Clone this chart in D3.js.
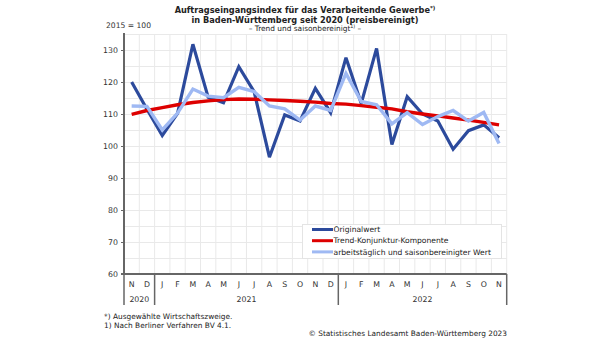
<!DOCTYPE html>
<html>
<head>
<meta charset="utf-8">
<script src="https://cdn.jsdelivr.net/npm/d3@7"></script>
<style>
  body { margin: 0; background: #fff; }
  svg { font-family: "DejaVu Sans", Verdana, sans-serif; }
</style>
</head>
<body>
<div id="chart"></div>
<script>
const W = 608, H = 342;

// months Nov 2020 .. Nov 2022
const months = ["N","D","J","F","M","A","M","J","J","A","S","O","N","D","J","F","M","A","M","J","J","A","S","O","N"];
const years = ["2020", "2021", "2022"];
const yearMonthCounts = [2, 12, 11];
const yTicks = [60, 70, 80, 90, 100, 110, 120, 130];

const original = [120, 111.5, 103.3, 110.2, 131.8, 115.2, 113.5, 124.8, 117, 96.5, 109.7, 107.8, 118, 110.4, 127.6, 113.3, 130.5, 100.5, 115.4, 110, 107.8, 99, 104.8, 106.6, 102.6];
const trend = [109.9, 111.1, 112, 112.9, 113.6, 114.1, 114.5, 114.7, 114.6, 114.4, 114.2, 114, 113.7, 113.3, 113.1, 112.6, 112.1, 111.6, 110.7, 110, 109.4, 108.75, 108.1, 107.4, 106.6];
const adjusted = [112.5, 112.4, 105, 110.3, 117.8, 115.6, 115.1, 118.3, 117, 112.5, 111.6, 108.1, 112.5, 111.1, 122.7, 113.9, 112.9, 106.9, 110.4, 106.7, 109.2, 111.1, 107.8, 110.5, 100.8];

const seriesNames = ["Originalwert", "Trend-Konjunktur-Komponente", "arbeitstäglich und saisonbereinigter Wert"];
const seriesColors = ["#2c4a9c", "#dd0000", "#9fb9f3"];

const plotLeft = 124, plotRight = 506.7, plotTop = 34, plotBottom = 274;

const svg = d3.select("#chart").append("svg").attr("width", W).attr("height", H);

const x = d3.scaleBand().domain(d3.range(months.length)).range([plotLeft, plotRight]).padding(0);
const cx = i => x(i) + x.bandwidth() / 2;
const y = d3.scaleLinear().domain([60, 135]).range([plotBottom, plotTop]);

// grid
const grid = svg.append("g").attr("stroke", "#e9e9e9").attr("stroke-width", 1);
grid.selectAll(".hg").data(d3.range(65, 136, 5)).enter().append("line")
    .attr("x1", plotLeft).attr("x2", plotRight)
    .attr("y1", d => Math.round(y(d)) + 0.5).attr("y2", d => Math.round(y(d)) + 0.5);
grid.selectAll(".vg").data(d3.range(1, months.length + 1)).enter().append("line")
    .attr("x1", i => x(i) ?? plotRight).attr("x2", i => x(i) ?? plotRight)
    .attr("y1", plotTop).attr("y2", plotBottom);

// y axis
const yAxis = svg.append("g").attr("transform", `translate(${plotLeft},0)`)
    .call(d3.axisLeft(y).tickValues(yTicks).tickSize(3).tickPadding(3));
yAxis.select(".domain").attr("stroke", "#666").attr("stroke-width", 2)
    .attr("d", `M0,${plotTop - 1}V${plotBottom}`);
yAxis.selectAll(".tick line").attr("stroke", "#666");
yAxis.selectAll(".tick text").attr("font-size", "7.8px").attr("fill", "#333")
    .attr("font-family", "DejaVu Sans, sans-serif");

// x axis line
svg.append("line").attr("x1", plotLeft - 3).attr("x2", plotRight)
    .attr("y1", plotBottom).attr("y2", plotBottom).attr("stroke", "#666").attr("stroke-width", 2);

// month labels
svg.append("g").selectAll("text").data(months).enter().append("text")
    .attr("x", (d, i) => cx(i)).attr("y", 287)
    .attr("text-anchor", "middle").attr("font-size", "7.8px").attr("fill", "#333")
    .text(d => d);

// year dividers & labels
let startIdx = 0;
const yearG = svg.append("g");
const edges = [plotLeft];
years.forEach((yr, k) => {
  const endIdx = startIdx + yearMonthCounts[k];
  const x0 = x(startIdx), x1 = endIdx < months.length ? x(endIdx) : plotRight;
  edges.push(x1);
  yearG.append("text").attr("x", (x0 + x1) / 2).attr("y", 302)
      .attr("text-anchor", "middle").attr("font-size", "7.8px").attr("fill", "#333").text(yr);
  startIdx = endIdx;
});
yearG.selectAll("line").data(edges).enter().append("line")
    .attr("x1", d => d).attr("x2", d => d).attr("y1", plotBottom).attr("y2", 305)
    .attr("stroke", "#666").attr("stroke-width", 1.5);

// series lines
const line = d3.line().x((d, i) => cx(i)).y(d => y(d));
[original, trend, adjusted].forEach((s, k) => {
  svg.append("path").datum(s).attr("d", line)
      .attr("fill", "none").attr("stroke", seriesColors[k])
      .attr("stroke-width", k === 0 ? 3.2 : 3.4)
      .attr("stroke-linejoin", "miter").attr("stroke-miterlimit", 3);
});

// legend
const lg = svg.append("g");
lg.append("rect").attr("x", 302.5).attr("y", 224.5).attr("width", 199).attr("height", 34)
    .attr("fill", "#fff").attr("stroke", "#e4e4e4");
seriesNames.forEach((n, k) => {
  const ly = 229.5 + k * 11.2;
  lg.append("line").attr("x1", 312).attr("x2", 333).attr("y1", ly).attr("y2", ly)
      .attr("stroke", seriesColors[k]).attr("stroke-width", 3);
  lg.append("text").attr("x", 333.5).attr("y", ly + 2.7).attr("font-size", "7.6px")
      .attr("fill", "#222").text(n);
});

// titles
const t = svg.append("g").attr("text-anchor", "middle").attr("fill", "#222");
const t1 = t.append("text").attr("x", 305).attr("y", 13).attr("font-size", "8.2px").attr("font-weight", "bold");
t1.append("tspan").text("Auftragseingangsindex für das Verarbeitende Gewerbe");
t1.append("tspan").attr("font-size", "5.5px").attr("dy", -3).text("*)");
t.append("text").attr("x", 305).attr("y", 22.5).attr("font-size", "8.2px").attr("font-weight", "bold")
    .text("in Baden-Württemberg seit 2020 (preisbereinigt)");
const t3 = t.append("text").attr("x", 305).attr("y", 30.5).attr("font-size", "7.4px");
t3.append("tspan").text("– Trend und saisonbereinigt");
t3.append("tspan").attr("font-size", "4.8px").attr("dy", -2.5).text("1)");
t3.append("tspan").attr("dy", 2.5).text(" –");

svg.append("text").attr("x", 106).attr("y", 27.5).attr("font-size", "7.6px").attr("fill", "#333")
    .text("2015 = 100");

// footnotes
svg.append("text").attr("x", 104).attr("y", 318.5).attr("font-size", "7.4px").attr("fill", "#222")
    .text("*) Ausgewählte Wirtschaftszweige.");
svg.append("text").attr("x", 104).attr("y", 327.5).attr("font-size", "7.4px").attr("fill", "#222")
    .text("1) Nach Berliner Verfahren BV 4.1.");
svg.append("text").attr("x", 507).attr("y", 336).attr("text-anchor", "end")
    .attr("font-size", "7.4px").attr("fill", "#222")
    .text("© Statistisches Landesamt Baden-Württemberg 2023");
</script>
</body>
</html>
